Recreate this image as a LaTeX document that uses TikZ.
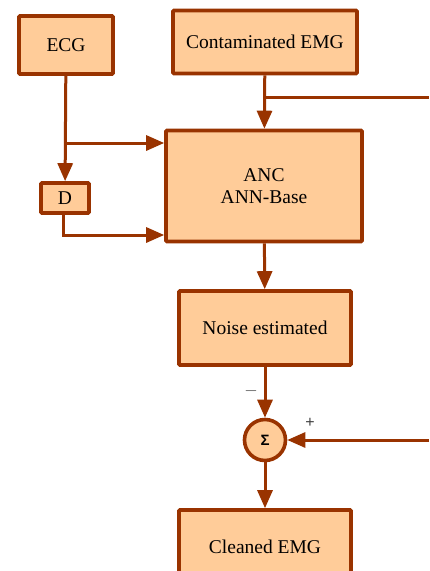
\documentclass[tikz,border=0pt]{standalone}
\usepackage{fontspec}
\setmainfont{Liberation Serif}
\newfontfamily\sumfont{Liberation Sans}
\usetikzlibrary{arrows.meta}
\definecolor{boxfill}{HTML}{FFCC99}
\definecolor{boxline}{HTML}{993300}

\begin{document}
\begin{tikzpicture}[x=1pt,y=-1pt,
    block/.style={draw=boxline, fill=boxfill, line width=3.6pt, rounded corners=1pt,
        inner sep=0pt, align=center, font=\fontsize{19.5}{22}\selectfont},
    sumnode/.style={circle, draw=boxline, fill=boxfill, line width=3.6pt,
        minimum size=41pt, inner sep=0pt, font=\sumfont\fontsize{15}{18}\selectfont},
    link/.style={draw=boxline, line width=3pt, -{Triangle[length=18pt,width=15pt]}},
    wire/.style={draw=boxline, line width=3pt},
    sign/.style={text=black!75, font=\sumfont\fontsize{16}{18}\selectfont}]
    \useasboundingbox (0,0) rectangle (429,571);
    % blocks
    \node[block, minimum width=94, minimum height=58] (ecg) at (66,45) {ECG};
    \node[block, minimum width=184, minimum height=63] (cemg) at (265,42) {Contaminated EMG};
    \node[block, minimum width=196, minimum height=111] (anc) at (264,186) {ANC\\ANN-Base};
    \node[block, minimum width=48, minimum height=30] (d) at (65,198) {D};
    \node[block, minimum width=172, minimum height=74] (noise) at (265,328) {Noise estimated};
    \node[sumnode] (sum) at (265,440) {\bfseries Σ};
    \node[block, minimum width=172, minimum height=74] (clean) at (265,547) {Cleaned EMG};
    % signs
    \node[sign] (minus) at (251,391) {$-$};
    \node[sign] (plus) at (310,423) {+};
    % junctions
    \coordinate (tap) at (265,97);
    \coordinate (right1) at (429,97);
    \coordinate (right2) at (429,440);
    \coordinate (ecgtap) at (66,143);
    \coordinate (dtap) at (63,235);
    % connectors
    \draw[link] (cemg) -- (anc);
    \draw[wire] (tap) -- (right1);
    \draw[link] (ecg) -- (d);
    \draw[link] (ecgtap) -- (anc.west |- ecgtap);
    \draw[link] (d.south -| dtap) -- (dtap) -- (anc.west |- dtap);
    \draw[link] (anc) -- (noise);
    \draw[link] (noise) -- (sum);
    \draw[link] (right2) -- (sum);
    \draw[link] (sum) -- (clean);
\end{tikzpicture}
\end{document}
